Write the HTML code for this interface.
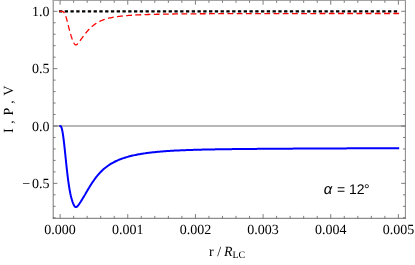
<!DOCTYPE html>
<html><head><meta charset="utf-8"><style>
html,body{margin:0;padding:0;background:#fff;}
svg{display:block;will-change:transform}
text{font-family:"Liberation Serif",serif;font-size:14px;fill:#000;text-rendering:geometricPrecision}
.sans{font-family:"Liberation Sans",sans-serif;}
</style></head><body>
<svg width="415" height="265" viewBox="0 0 415 265">
<rect width="415" height="265" fill="#fff"/>
<path d="M53.2,126.0 H405.4" stroke="#707070" stroke-width="1.1" fill="none"/>
<path d="M59.30,126.00 L60.10,126.00 L60.20,126.00 L60.30,126.02 L60.41,126.04 L60.51,126.09 L60.61,126.15 L60.71,126.23 L60.81,126.33 L60.91,126.45 L61.02,126.60 L61.12,126.77 L61.22,126.97 L61.32,127.19 L61.42,127.44 L61.52,127.71 L61.63,128.01 L61.73,128.34 L61.83,128.70 L61.93,129.08 L62.03,129.50 L62.13,129.94 L62.24,130.41 L62.34,130.91 L62.44,131.43 L62.54,131.98 L62.64,132.56 L62.75,133.17 L62.85,133.80 L62.95,134.45 L63.05,135.13 L63.15,135.84 L63.25,136.57 L63.36,137.32 L63.46,138.09 L63.56,138.88 L63.66,139.69 L63.76,140.52 L63.86,141.37 L63.97,142.24 L64.07,143.12 L64.17,144.01 L64.27,144.92 L64.37,145.84 L64.48,146.77 L64.58,147.72 L64.68,148.67 L64.78,149.63 L64.88,150.59 L64.98,151.57 L65.09,152.54 L65.19,153.52 L65.29,154.51 L65.39,155.49 L65.49,156.48 L65.59,157.47 L65.70,158.45 L65.80,159.44 L65.90,160.42 L66.00,161.40 L66.10,162.37 L66.20,163.34 L66.31,164.30 L66.41,165.26 L66.51,166.21 L66.61,167.15 L66.71,168.08 L66.82,169.01 L66.92,169.92 L67.02,170.83 L67.12,171.73 L67.22,172.61 L67.32,173.48 L67.43,174.35 L67.53,175.20 L67.63,176.04 L67.73,176.86 L67.83,177.68 L67.93,178.48 L68.04,179.27 L68.14,180.04 L68.24,180.81 L68.34,181.56 L68.44,182.29 L68.54,183.01 L68.65,183.72 L68.75,184.42 L68.85,185.10 L68.95,185.77 L69.05,186.42 L69.16,187.06 L69.26,187.69 L69.36,188.30 L69.46,188.90 L69.56,189.49 L69.66,190.06 L69.77,190.62 L69.87,191.17 L69.97,191.71 L70.07,192.23 L70.17,192.74 L70.27,193.24 L70.38,193.73 L70.48,194.20 L70.58,194.66 L70.68,195.12 L70.78,195.56 L70.88,195.99 L70.99,196.41 L71.09,196.82 L71.19,197.22 L71.29,197.62 L71.39,198.00 L71.50,198.37 L71.60,198.74 L71.70,199.10 L71.80,199.45 L71.90,199.79 L72.00,200.13 L72.11,200.46 L72.21,200.78 L72.31,201.09 L72.41,201.40 L72.51,201.70 L72.61,202.00 L72.72,202.29 L72.82,202.57 L72.92,202.84 L73.02,203.11 L73.12,203.37 L73.23,203.63 L73.33,203.88 L73.43,204.12 L73.53,204.35 L73.63,204.57 L73.73,204.79 L73.84,205.00 L73.94,205.20 L74.04,205.39 L74.14,205.57 L74.24,205.74 L74.34,205.90 L74.45,206.05 L74.55,206.20 L74.65,206.33 L74.75,206.45 L74.85,206.56 L74.95,206.66 L75.06,206.75 L75.16,206.83 L75.26,206.90 L75.36,206.96 L75.46,207.01 L75.57,207.05 L75.67,207.08 L75.77,207.10 L75.87,207.11 L75.97,207.11 L76.07,207.10 L76.18,207.08 L76.28,207.05 L76.38,207.02 L76.48,206.97 L76.58,206.92 L76.68,206.86 L76.79,206.80 L76.89,206.73 L76.99,206.65 L77.09,206.56 L77.19,206.47 L77.29,206.37 L77.40,206.27 L77.50,206.17 L77.60,206.06 L77.70,205.94 L77.80,205.83 L77.91,205.70 L78.01,205.58 L78.11,205.45 L78.21,205.32 L78.31,205.19 L78.41,205.05 L78.52,204.91 L78.62,204.77 L78.72,204.63 L78.82,204.49 L78.92,204.35 L79.02,204.20 L79.13,204.05 L79.23,203.90 L79.33,203.76 L79.43,203.61 L79.53,203.45 L79.63,203.30 L79.74,203.15 L79.84,203.00 L79.94,202.84 L80.04,202.69 L80.14,202.53 L80.25,202.38 L80.35,202.22 L80.45,202.07 L80.55,201.91 L80.65,201.75 L80.75,201.59 L80.86,201.43 L80.96,201.28 L81.06,201.12 L81.16,200.96 L81.26,200.80 L81.36,200.63 L81.47,200.47 L81.57,200.31 L81.67,200.15 L81.77,199.99 L81.87,199.82 L81.98,199.66 L82.08,199.50 L82.18,199.33 L82.28,199.17 L82.38,199.00 L82.48,198.84 L82.59,198.67 L82.69,198.50 L82.79,198.34 L82.89,198.17 L82.99,198.00 L83.09,197.83 L83.20,197.66 L83.30,197.49 L83.40,197.32 L83.50,197.15 L83.60,196.98 L83.70,196.81 L83.81,196.64 L83.91,196.47 L84.01,196.30 L84.11,196.13 L84.21,195.95 L84.32,195.78 L84.42,195.61 L84.52,195.43 L84.62,195.26 L84.72,195.09 L84.82,194.91 L84.93,194.74 L85.03,194.57 L85.13,194.39 L85.23,194.22 L85.33,194.04 L85.43,193.87 L85.54,193.69 L85.64,193.52 L85.74,193.34 L85.84,193.17 L85.94,192.99 L86.04,192.82 L86.15,192.64 L86.25,192.47 L86.35,192.29 L86.45,192.12 L86.55,191.94 L86.66,191.77 L86.76,191.59 L86.86,191.42 L86.96,191.25 L87.06,191.07 L87.16,190.90 L87.27,190.72 L87.37,190.55 L87.47,190.38 L87.57,190.20 L87.67,190.03 L87.77,189.86 L87.88,189.68 L87.98,189.51 L88.08,189.34 L88.18,189.17 L88.28,189.00 L88.38,188.83 L88.49,188.65 L88.59,188.48 L88.69,188.31 L88.79,188.14 L88.89,187.97 L89.00,187.81 L89.10,187.64 L89.20,187.47 L89.30,187.30 L89.40,187.13 L89.50,186.97 L89.61,186.80 L89.71,186.63 L89.81,186.47 L89.91,186.30 L90.01,186.14 L90.11,185.97 L90.22,185.81 L90.32,185.64 L90.42,185.48 L90.52,185.32 L90.62,185.16 L90.73,184.99 L90.83,184.83 L90.93,184.67 L91.03,184.51 L91.13,184.35 L91.23,184.19 L91.34,184.03 L91.44,183.88 L91.54,183.72 L91.64,183.56 L91.74,183.40 L91.84,183.25 L91.95,183.09 L92.05,182.94 L92.15,182.78 L92.25,182.63 L92.35,182.48 L92.45,182.32 L92.56,182.17 L92.66,182.02 L92.76,181.87 L92.86,181.72 L92.96,181.57 L93.07,181.42 L93.17,181.27 L93.27,181.13 L93.37,180.98 L93.47,180.83 L93.57,180.68 L93.68,180.54 L93.78,180.39 L93.88,180.25 L93.98,180.11 L94.08,179.96 L94.18,179.82 L94.29,179.68 L94.39,179.54 L94.49,179.40 L94.59,179.26 L94.69,179.12 L94.79,178.98 L94.90,178.84 L95.00,178.70 L95.10,178.57 L95.20,178.43 L95.30,178.29 L95.41,178.16 L95.51,178.02 L95.61,177.89 L95.71,177.76 L95.81,177.62 L95.91,177.49 L96.02,177.36 L96.12,177.23 L96.22,177.10 L96.32,176.97 L96.42,176.84 L96.52,176.71 L96.63,176.58 L96.73,176.46 L96.83,176.33 L96.93,176.20 L97.03,176.08 L97.13,175.95 L97.24,175.83 L97.34,175.71 L97.44,175.58 L97.54,175.46 L97.64,175.34 L97.75,175.22 L97.85,175.10 L97.95,174.98 L98.05,174.86 L98.15,174.74 L98.25,174.62 L98.36,174.50 L98.46,174.39 L98.56,174.27 L98.66,174.15 L98.76,174.04 L98.86,173.92 L98.97,173.81 L99.07,173.70 L99.17,173.58 L99.27,173.47 L99.37,173.36 L99.48,173.25 L99.58,173.14 L99.68,173.03 L99.78,172.92 L99.88,172.81 L99.98,172.70 L100.09,172.59 L100.19,172.48 L100.29,172.38 L100.39,172.27 L100.49,172.17 L100.59,172.06 L100.70,171.96 L101.69,170.96 L102.69,170.01 L103.69,169.11 L104.69,168.26 L105.69,167.45 L106.69,166.68 L107.68,165.95 L108.68,165.25 L109.68,164.60 L110.68,163.97 L111.68,163.37 L112.68,162.81 L113.67,162.27 L114.67,161.76 L115.67,161.27 L116.67,160.80 L117.67,160.36 L118.67,159.93 L119.66,159.53 L120.66,159.14 L121.66,158.77 L122.66,158.42 L123.66,158.08 L124.66,157.75 L125.65,157.44 L126.65,157.14 L127.65,156.86 L128.65,156.58 L129.65,156.32 L130.65,156.06 L131.64,155.82 L132.64,155.58 L133.64,155.36 L134.64,155.14 L135.64,154.93 L136.64,154.73 L137.63,154.54 L138.63,154.35 L139.63,154.17 L140.63,154.00 L141.63,153.83 L142.63,153.67 L143.62,153.52 L144.62,153.37 L145.62,153.22 L146.62,153.08 L147.62,152.95 L148.62,152.82 L149.61,152.69 L150.61,152.57 L151.61,152.45 L152.61,152.34 L153.61,152.23 L154.61,152.13 L155.60,152.03 L156.60,151.93 L157.60,151.83 L158.60,151.74 L159.60,151.65 L160.60,151.57 L161.59,151.48 L162.59,151.40 L163.59,151.33 L164.59,151.25 L165.59,151.18 L166.59,151.11 L167.58,151.04 L168.58,150.97 L169.58,150.91 L170.58,150.85 L171.58,150.79 L172.58,150.73 L173.57,150.68 L174.57,150.62 L175.57,150.57 L176.57,150.52 L177.57,150.47 L178.57,150.42 L179.56,150.38 L180.56,150.33 L181.56,150.29 L182.56,150.24 L183.56,150.20 L184.56,150.16 L185.55,150.13 L186.55,150.09 L187.55,150.05 L188.55,150.02 L189.55,149.98 L190.55,149.95 L191.55,149.92 L192.54,149.89 L193.54,149.86 L194.54,149.83 L195.54,149.80 L196.54,149.77 L197.54,149.74 L198.53,149.72 L199.53,149.69 L200.53,149.67 L201.53,149.64 L202.53,149.62 L203.53,149.60 L204.52,149.57 L205.52,149.55 L206.52,149.53 L207.52,149.51 L208.52,149.49 L209.52,149.47 L210.51,149.45 L211.51,149.43 L212.51,149.41 L213.51,149.40 L214.51,149.38 L215.51,149.36 L216.50,149.35 L217.50,149.33 L218.50,149.31 L219.50,149.30 L220.50,149.28 L221.50,149.27 L222.49,149.25 L223.49,149.24 L224.49,149.22 L225.49,149.21 L226.49,149.20 L227.49,149.18 L228.48,149.17 L229.48,149.16 L230.48,149.14 L231.48,149.13 L232.48,149.12 L233.48,149.11 L234.47,149.10 L235.47,149.09 L236.47,149.07 L237.47,149.06 L238.47,149.05 L239.47,149.04 L240.46,149.03 L241.46,149.02 L242.46,149.01 L243.46,149.00 L244.46,148.99 L245.46,148.98 L246.45,148.97 L247.45,148.96 L248.45,148.95 L249.45,148.94 L250.45,148.93 L251.45,148.92 L252.44,148.91 L253.44,148.91 L254.44,148.90 L255.44,148.89 L256.44,148.88 L257.44,148.87 L258.43,148.86 L259.43,148.85 L260.43,148.85 L261.43,148.84 L262.43,148.83 L263.43,148.82 L264.42,148.82 L265.42,148.81 L266.42,148.80 L267.42,148.79 L268.42,148.79 L269.42,148.78 L270.41,148.77 L271.41,148.76 L272.41,148.76 L273.41,148.75 L274.41,148.74 L275.41,148.74 L276.40,148.73 L277.40,148.72 L278.40,148.72 L279.40,148.71 L280.40,148.70 L281.40,148.70 L282.39,148.69 L283.39,148.68 L284.39,148.68 L285.39,148.67 L286.39,148.66 L287.39,148.66 L288.38,148.65 L289.38,148.65 L290.38,148.64 L291.38,148.63 L292.38,148.63 L293.38,148.62 L294.37,148.62 L295.37,148.61 L296.37,148.61 L297.37,148.60 L298.37,148.59 L299.37,148.59 L300.36,148.58 L301.36,148.58 L302.36,148.57 L303.36,148.57 L304.36,148.56 L305.36,148.56 L306.35,148.55 L307.35,148.55 L308.35,148.54 L309.35,148.54 L310.35,148.53 L311.35,148.53 L312.34,148.52 L313.34,148.52 L314.34,148.51 L315.34,148.51 L316.34,148.50 L317.34,148.50 L318.33,148.49 L319.33,148.49 L320.33,148.48 L321.33,148.48 L322.33,148.47 L323.33,148.47 L324.32,148.46 L325.32,148.46 L326.32,148.46 L327.32,148.45 L328.32,148.45 L329.32,148.44 L330.31,148.44 L331.31,148.43 L332.31,148.43 L333.31,148.43 L334.31,148.42 L335.31,148.42 L336.30,148.41 L337.30,148.41 L338.30,148.41 L339.30,148.40 L340.30,148.40 L341.30,148.39 L342.29,148.39 L343.29,148.39 L344.29,148.38 L345.29,148.38 L346.29,148.38 L347.29,148.37 L348.28,148.37 L349.28,148.37 L350.28,148.36 L351.28,148.36 L352.28,148.36 L353.28,148.35 L354.27,148.35 L355.27,148.35 L356.27,148.34 L357.27,148.34 L358.27,148.34 L359.27,148.33 L360.26,148.33 L361.26,148.33 L362.26,148.33 L363.26,148.32 L364.26,148.32 L365.26,148.32 L366.25,148.32 L367.25,148.31 L368.25,148.31 L369.25,148.31 L370.25,148.31 L371.25,148.30 L372.24,148.30 L373.24,148.30 L374.24,148.30 L375.24,148.29 L376.24,148.29 L377.24,148.29 L378.23,148.29 L379.23,148.29 L380.23,148.28 L381.23,148.28 L382.23,148.28 L383.23,148.28 L384.22,148.28 L385.22,148.28 L386.22,148.27 L387.22,148.27 L388.22,148.27 L389.22,148.27 L390.21,148.27 L391.21,148.27 L392.21,148.27 L393.21,148.26 L394.21,148.26 L395.21,148.26 L396.20,148.26 L397.20,148.26 L398.20,148.26 L399.20,148.26" stroke="#0000ff" stroke-width="2" fill="none" stroke-linejoin="round"/>
<path d="M58.95,11.30 H398.4" stroke="#000" stroke-width="2.2" stroke-dasharray="3.3 2.473" fill="none"/>
<path d="M59.30,11.30 L60.10,11.30 L60.20,11.30 L60.30,11.30 L60.41,11.30 L60.51,11.30 L60.61,11.30 L60.71,11.30 L60.81,11.30 L60.91,11.30 L61.02,11.30 L61.12,11.30 L61.22,11.30 L61.32,11.31 L61.42,11.31 L61.52,11.31 L61.63,11.32 L61.73,11.32 L61.83,11.33 L61.93,11.34 L62.03,11.35 L62.13,11.37 L62.24,11.38 L62.34,11.40 L62.44,11.43 L62.54,11.46 L62.64,11.49 L62.75,11.52 L62.85,11.57 L62.95,11.61 L63.05,11.66 L63.15,11.72 L63.25,11.79 L63.36,11.86 L63.46,11.94 L63.56,12.03 L63.66,12.12 L63.76,12.22 L63.86,12.33 L63.97,12.45 L64.07,12.58 L64.17,12.72 L64.27,12.87 L64.37,13.03 L64.48,13.20 L64.58,13.37 L64.68,13.56 L64.78,13.76 L64.88,13.97 L64.98,14.19 L65.09,14.41 L65.19,14.65 L65.29,14.90 L65.39,15.16 L65.49,15.42 L65.59,15.70 L65.70,15.99 L65.80,16.28 L65.90,16.59 L66.00,16.90 L66.10,17.22 L66.20,17.55 L66.31,17.88 L66.41,18.23 L66.51,18.58 L66.61,18.94 L66.71,19.30 L66.82,19.67 L66.92,20.04 L67.02,20.42 L67.12,20.81 L67.22,21.20 L67.32,21.59 L67.43,21.99 L67.53,22.39 L67.63,22.79 L67.73,23.19 L67.83,23.60 L67.93,24.01 L68.04,24.42 L68.14,24.83 L68.24,25.24 L68.34,25.65 L68.44,26.06 L68.54,26.47 L68.65,26.88 L68.75,27.29 L68.85,27.70 L68.95,28.10 L69.05,28.50 L69.16,28.90 L69.26,29.30 L69.36,29.70 L69.46,30.09 L69.56,30.47 L69.66,30.86 L69.77,31.24 L69.87,31.61 L69.97,31.99 L70.07,32.35 L70.17,32.72 L70.27,33.08 L70.38,33.43 L70.48,33.78 L70.58,34.12 L70.68,34.46 L70.78,34.80 L70.88,35.13 L70.99,35.45 L71.09,35.78 L71.19,36.09 L71.29,36.40 L71.39,36.71 L71.50,37.02 L71.60,37.32 L71.70,37.61 L71.80,37.90 L71.90,38.19 L72.00,38.47 L72.11,38.75 L72.21,39.03 L72.31,39.30 L72.41,39.57 L72.51,39.83 L72.61,40.09 L72.72,40.35 L72.82,40.60 L72.92,40.85 L73.02,41.09 L73.12,41.33 L73.23,41.56 L73.33,41.79 L73.43,42.01 L73.53,42.23 L73.63,42.44 L73.73,42.64 L73.84,42.84 L73.94,43.03 L74.04,43.21 L74.14,43.39 L74.24,43.55 L74.34,43.71 L74.45,43.86 L74.55,44.00 L74.65,44.13 L74.75,44.25 L74.85,44.36 L74.95,44.46 L75.06,44.55 L75.16,44.63 L75.26,44.69 L75.36,44.75 L75.46,44.80 L75.57,44.84 L75.67,44.87 L75.77,44.89 L75.87,44.90 L75.97,44.90 L76.07,44.89 L76.18,44.87 L76.28,44.84 L76.38,44.81 L76.48,44.76 L76.58,44.71 L76.68,44.65 L76.79,44.59 L76.89,44.52 L76.99,44.44 L77.09,44.35 L77.19,44.27 L77.29,44.17 L77.40,44.07 L77.50,43.97 L77.60,43.86 L77.70,43.75 L77.80,43.63 L77.91,43.52 L78.01,43.40 L78.11,43.27 L78.21,43.15 L78.31,43.02 L78.41,42.89 L78.52,42.76 L78.62,42.63 L78.72,42.50 L78.82,42.36 L78.92,42.23 L79.02,42.09 L79.13,41.95 L79.23,41.82 L79.33,41.68 L79.43,41.54 L79.53,41.40 L79.63,41.26 L79.74,41.12 L79.84,40.98 L79.94,40.85 L80.04,40.71 L80.14,40.57 L80.25,40.43 L80.35,40.29 L80.45,40.15 L80.55,40.01 L80.65,39.87 L80.75,39.73 L80.86,39.60 L80.96,39.46 L81.06,39.32 L81.16,39.18 L81.26,39.04 L81.36,38.90 L81.47,38.77 L81.57,38.63 L81.67,38.49 L81.77,38.35 L81.87,38.22 L81.98,38.08 L82.08,37.94 L82.18,37.80 L82.28,37.67 L82.38,37.53 L82.48,37.39 L82.59,37.26 L82.69,37.12 L82.79,36.99 L82.89,36.85 L82.99,36.71 L83.09,36.58 L83.20,36.44 L83.30,36.31 L83.40,36.17 L83.50,36.04 L83.60,35.90 L83.70,35.77 L83.81,35.63 L83.91,35.50 L84.01,35.37 L84.11,35.23 L84.21,35.10 L84.32,34.97 L84.42,34.84 L84.52,34.70 L84.62,34.57 L84.72,34.44 L84.82,34.31 L84.93,34.18 L85.03,34.05 L85.13,33.92 L85.23,33.79 L85.33,33.66 L85.43,33.53 L85.54,33.41 L85.64,33.28 L85.74,33.15 L85.84,33.02 L85.94,32.90 L86.04,32.77 L86.15,32.65 L86.25,32.52 L86.35,32.40 L86.45,32.27 L86.55,32.15 L86.66,32.03 L86.76,31.91 L86.86,31.79 L86.96,31.67 L87.06,31.54 L87.16,31.43 L87.27,31.31 L87.37,31.19 L87.47,31.07 L87.57,30.95 L87.67,30.84 L87.77,30.72 L87.88,30.60 L87.98,30.49 L88.08,30.38 L88.18,30.26 L88.28,30.15 L88.38,30.04 L88.49,29.92 L88.59,29.81 L88.69,29.70 L88.79,29.59 L88.89,29.48 L89.00,29.38 L89.10,29.27 L89.20,29.16 L89.30,29.05 L89.40,28.95 L89.50,28.84 L89.61,28.74 L89.71,28.64 L89.81,28.53 L89.91,28.43 L90.01,28.33 L90.11,28.23 L90.22,28.13 L90.32,28.03 L90.42,27.93 L90.52,27.83 L90.62,27.73 L90.73,27.63 L90.83,27.54 L90.93,27.44 L91.03,27.35 L91.13,27.25 L91.23,27.16 L91.34,27.06 L91.44,26.97 L91.54,26.88 L91.64,26.79 L91.74,26.70 L91.84,26.61 L91.95,26.52 L92.05,26.43 L92.15,26.34 L92.25,26.25 L92.35,26.17 L92.45,26.08 L92.56,26.00 L92.66,25.91 L92.76,25.83 L92.86,25.74 L92.96,25.66 L93.07,25.58 L93.17,25.50 L93.27,25.42 L93.37,25.33 L93.47,25.25 L93.57,25.18 L93.68,25.10 L93.78,25.02 L93.88,24.94 L93.98,24.86 L94.08,24.79 L94.18,24.71 L94.29,24.64 L94.39,24.56 L94.49,24.49 L94.59,24.41 L94.69,24.34 L94.79,24.27 L94.90,24.20 L95.00,24.13 L95.10,24.05 L95.20,23.98 L95.30,23.91 L95.41,23.85 L95.51,23.78 L95.61,23.71 L95.71,23.64 L95.81,23.57 L95.91,23.51 L96.02,23.44 L96.12,23.38 L96.22,23.31 L96.32,23.25 L96.42,23.18 L96.52,23.12 L96.63,23.06 L96.73,22.99 L96.83,22.93 L96.93,22.87 L97.03,22.81 L97.13,22.75 L97.24,22.69 L97.34,22.63 L97.44,22.57 L97.54,22.51 L97.64,22.45 L97.75,22.40 L97.85,22.34 L97.95,22.28 L98.05,22.23 L98.15,22.17 L98.25,22.11 L98.36,22.06 L98.46,22.01 L98.56,21.95 L98.66,21.90 L98.76,21.84 L98.86,21.79 L98.97,21.74 L99.07,21.69 L99.17,21.64 L99.27,21.58 L99.37,21.53 L99.48,21.48 L99.58,21.43 L99.68,21.38 L99.78,21.33 L99.88,21.29 L99.98,21.24 L100.09,21.19 L100.19,21.14 L100.29,21.09 L100.39,21.05 L100.49,21.00 L100.59,20.95 L100.70,20.91 L101.69,20.48 L102.69,20.08 L103.69,19.71 L104.69,19.37 L105.69,19.05 L106.69,18.76 L107.68,18.48 L108.68,18.23 L109.68,17.99 L110.68,17.77 L111.68,17.56 L112.68,17.37 L113.67,17.19 L114.67,17.02 L115.67,16.86 L116.67,16.71 L117.67,16.57 L118.67,16.43 L119.66,16.31 L120.66,16.19 L121.66,16.08 L122.66,15.98 L123.66,15.88 L124.66,15.78 L125.65,15.69 L126.65,15.61 L127.65,15.53 L128.65,15.45 L129.65,15.38 L130.65,15.31 L131.64,15.24 L132.64,15.18 L133.64,15.12 L134.64,15.06 L135.64,15.01 L136.64,14.96 L137.63,14.91 L138.63,14.86 L139.63,14.81 L140.63,14.77 L141.63,14.73 L142.63,14.69 L143.62,14.65 L144.62,14.61 L145.62,14.58 L146.62,14.54 L147.62,14.51 L148.62,14.48 L149.61,14.45 L150.61,14.42 L151.61,14.39 L152.61,14.37 L153.61,14.34 L154.61,14.32 L155.60,14.29 L156.60,14.27 L157.60,14.25 L158.60,14.23 L159.60,14.21 L160.60,14.19 L161.59,14.17 L162.59,14.15 L163.59,14.13 L164.59,14.11 L165.59,14.10 L166.59,14.08 L167.58,14.07 L168.58,14.05 L169.58,14.04 L170.58,14.02 L171.58,14.01 L172.58,14.00 L173.57,13.99 L174.57,13.97 L175.57,13.96 L176.57,13.95 L177.57,13.94 L178.57,13.93 L179.56,13.92 L180.56,13.91 L181.56,13.90 L182.56,13.89 L183.56,13.88 L184.56,13.87 L185.55,13.87 L186.55,13.86 L187.55,13.85 L188.55,13.84 L189.55,13.84 L190.55,13.83 L191.55,13.82 L192.54,13.81 L193.54,13.81 L194.54,13.80 L195.54,13.80 L196.54,13.79 L197.54,13.78 L198.53,13.78 L199.53,13.77 L200.53,13.77 L201.53,13.76 L202.53,13.76 L203.53,13.75 L204.52,13.75 L205.52,13.74 L206.52,13.74 L207.52,13.74 L208.52,13.73 L209.52,13.73 L210.51,13.72 L211.51,13.72 L212.51,13.72 L213.51,13.71 L214.51,13.71 L215.51,13.70 L216.50,13.70 L217.50,13.70 L218.50,13.69 L219.50,13.69 L220.50,13.69 L221.50,13.68 L222.49,13.68 L223.49,13.68 L224.49,13.68 L225.49,13.67 L226.49,13.67 L227.49,13.67 L228.48,13.66 L229.48,13.66 L230.48,13.66 L231.48,13.66 L232.48,13.65 L233.48,13.65 L234.47,13.65 L235.47,13.65 L236.47,13.64 L237.47,13.64 L238.47,13.64 L239.47,13.64 L240.46,13.64 L241.46,13.63 L242.46,13.63 L243.46,13.63 L244.46,13.63 L245.46,13.63 L246.45,13.62 L247.45,13.62 L248.45,13.62 L249.45,13.62 L250.45,13.62 L251.45,13.61 L252.44,13.61 L253.44,13.61 L254.44,13.61 L255.44,13.61 L256.44,13.61 L257.44,13.60 L258.43,13.60 L259.43,13.60 L260.43,13.60 L261.43,13.60 L262.43,13.60 L263.43,13.59 L264.42,13.59 L265.42,13.59 L266.42,13.59 L267.42,13.59 L268.42,13.59 L269.42,13.58 L270.41,13.58 L271.41,13.58 L272.41,13.58 L273.41,13.58 L274.41,13.58 L275.41,13.58 L276.40,13.57 L277.40,13.57 L278.40,13.57 L279.40,13.57 L280.40,13.57 L281.40,13.57 L282.39,13.57 L283.39,13.57 L284.39,13.56 L285.39,13.56 L286.39,13.56 L287.39,13.56 L288.38,13.56 L289.38,13.56 L290.38,13.56 L291.38,13.56 L292.38,13.55 L293.38,13.55 L294.37,13.55 L295.37,13.55 L296.37,13.55 L297.37,13.55 L298.37,13.55 L299.37,13.55 L300.36,13.55 L301.36,13.54 L302.36,13.54 L303.36,13.54 L304.36,13.54 L305.36,13.54 L306.35,13.54 L307.35,13.54 L308.35,13.54 L309.35,13.54 L310.35,13.53 L311.35,13.53 L312.34,13.53 L313.34,13.53 L314.34,13.53 L315.34,13.53 L316.34,13.53 L317.34,13.53 L318.33,13.53 L319.33,13.53 L320.33,13.52 L321.33,13.52 L322.33,13.52 L323.33,13.52 L324.32,13.52 L325.32,13.52 L326.32,13.52 L327.32,13.52 L328.32,13.52 L329.32,13.52 L330.31,13.52 L331.31,13.52 L332.31,13.51 L333.31,13.51 L334.31,13.51 L335.31,13.51 L336.30,13.51 L337.30,13.51 L338.30,13.51 L339.30,13.51 L340.30,13.51 L341.30,13.51 L342.29,13.51 L343.29,13.51 L344.29,13.51 L345.29,13.50 L346.29,13.50 L347.29,13.50 L348.28,13.50 L349.28,13.50 L350.28,13.50 L351.28,13.50 L352.28,13.50 L353.28,13.50 L354.27,13.50 L355.27,13.50 L356.27,13.50 L357.27,13.50 L358.27,13.50 L359.27,13.50 L360.26,13.49 L361.26,13.49 L362.26,13.49 L363.26,13.49 L364.26,13.49 L365.26,13.49 L366.25,13.49 L367.25,13.49 L368.25,13.49 L369.25,13.49 L370.25,13.49 L371.25,13.49 L372.24,13.49 L373.24,13.49 L374.24,13.49 L375.24,13.49 L376.24,13.49 L377.24,13.49 L378.23,13.49 L379.23,13.49 L380.23,13.49 L381.23,13.49 L382.23,13.48 L383.23,13.48 L384.22,13.48 L385.22,13.48 L386.22,13.48 L387.22,13.48 L388.22,13.48 L389.22,13.48 L390.21,13.48 L391.21,13.48 L392.21,13.48 L393.21,13.48 L394.21,13.48 L395.21,13.48 L396.20,13.48 L397.20,13.48 L398.20,13.48 L399.20,13.48" stroke="#ff0000" stroke-width="1.3" stroke-dasharray="5.8 3.412" fill="none"/>
<path d="M53.2,0 V218.70000000000002" stroke="#787878" stroke-width="1" fill="none"/>
<path d="M405.4,0 V218.70000000000002" stroke="#666" stroke-width="0.8" fill="none"/>
<path d="M52.800000000000004,0.5 H405.79999999999995" stroke="#a4a4a4" stroke-width="1" fill="none"/>
<path d="M52.800000000000004,218.3 H405.79999999999995" stroke="#606060" stroke-width="0.9" fill="none"/>
<path d="M60.10,218.3 v-4.2 M60.10,0.5 v4.2 M73.63,218.3 v-2.4 M73.63,0.5 v2.4 M87.16,218.3 v-2.4 M87.16,0.5 v2.4 M100.70,218.3 v-2.4 M100.70,0.5 v2.4 M114.23,218.3 v-2.4 M114.23,0.5 v2.4 M127.76,218.3 v-4.2 M127.76,0.5 v4.2 M141.29,218.3 v-2.4 M141.29,0.5 v2.4 M154.82,218.3 v-2.4 M154.82,0.5 v2.4 M168.36,218.3 v-2.4 M168.36,0.5 v2.4 M181.89,218.3 v-2.4 M181.89,0.5 v2.4 M195.42,218.3 v-4.2 M195.42,0.5 v4.2 M208.95,218.3 v-2.4 M208.95,0.5 v2.4 M222.48,218.3 v-2.4 M222.48,0.5 v2.4 M236.02,218.3 v-2.4 M236.02,0.5 v2.4 M249.55,218.3 v-2.4 M249.55,0.5 v2.4 M263.08,218.3 v-4.2 M263.08,0.5 v4.2 M276.61,218.3 v-2.4 M276.61,0.5 v2.4 M290.14,218.3 v-2.4 M290.14,0.5 v2.4 M303.68,218.3 v-2.4 M303.68,0.5 v2.4 M317.21,218.3 v-2.4 M317.21,0.5 v2.4 M330.74,218.3 v-4.2 M330.74,0.5 v4.2 M344.27,218.3 v-2.4 M344.27,0.5 v2.4 M357.80,218.3 v-2.4 M357.80,0.5 v2.4 M371.34,218.3 v-2.4 M371.34,0.5 v2.4 M384.87,218.3 v-2.4 M384.87,0.5 v2.4 M398.40,218.3 v-4.2 M398.40,0.5 v4.2 M53.2,217.76 h2.4 M405.4,217.76 h-2.4 M53.2,206.29 h2.4 M405.4,206.29 h-2.4 M53.2,194.82 h2.4 M405.4,194.82 h-2.4 M53.2,183.35 h4.2 M405.4,183.35 h-4.2 M53.2,171.88 h2.4 M405.4,171.88 h-2.4 M53.2,160.41 h2.4 M405.4,160.41 h-2.4 M53.2,148.94 h2.4 M405.4,148.94 h-2.4 M53.2,137.47 h2.4 M405.4,137.47 h-2.4 M53.2,126.00 h4.2 M405.4,126.00 h-4.2 M53.2,114.53 h2.4 M405.4,114.53 h-2.4 M53.2,103.06 h2.4 M405.4,103.06 h-2.4 M53.2,91.59 h2.4 M405.4,91.59 h-2.4 M53.2,80.12 h2.4 M405.4,80.12 h-2.4 M53.2,68.65 h4.2 M405.4,68.65 h-4.2 M53.2,57.18 h2.4 M405.4,57.18 h-2.4 M53.2,45.71 h2.4 M405.4,45.71 h-2.4 M53.2,34.24 h2.4 M405.4,34.24 h-2.4 M53.2,22.77 h2.4 M405.4,22.77 h-2.4 M53.2,11.30 h4.2 M405.4,11.30 h-4.2" stroke="#666" stroke-width="0.85" fill="none"/>
<text x="60.10" y="233.6" text-anchor="middle">0.000</text><text x="127.76" y="233.6" text-anchor="middle">0.001</text><text x="195.42" y="233.6" text-anchor="middle">0.002</text><text x="263.08" y="233.6" text-anchor="middle">0.003</text><text x="330.74" y="233.6" text-anchor="middle">0.004</text><text x="398.40" y="233.6" text-anchor="middle">0.005</text>
<text x="49.4" y="16.00" text-anchor="end">1.0</text><text x="49.4" y="73.35" text-anchor="end">0.5</text><text x="49.4" y="130.70" text-anchor="end">0.0</text><text x="49.4" y="188.05" text-anchor="end">−<tspan dx="1.7">0.5</tspan></text>
<text transform="translate(12.6,109.3) rotate(-90)" text-anchor="middle" style="word-spacing:1.1px">I , P , V</text>
<text x="209" y="256.2">r / <tspan font-style="italic" dx="-0.6">R</tspan><tspan font-size="10px" dy="1.8">LC</tspan></text>
<text class="sans" x="323.8" y="193.8" style="font-size:14px"><tspan font-style="italic" font-size="14.8px">α</tspan><tspan dx="0.8"> = 12</tspan><tspan dx="-0.7">°</tspan></text>
</svg>
</body></html>
